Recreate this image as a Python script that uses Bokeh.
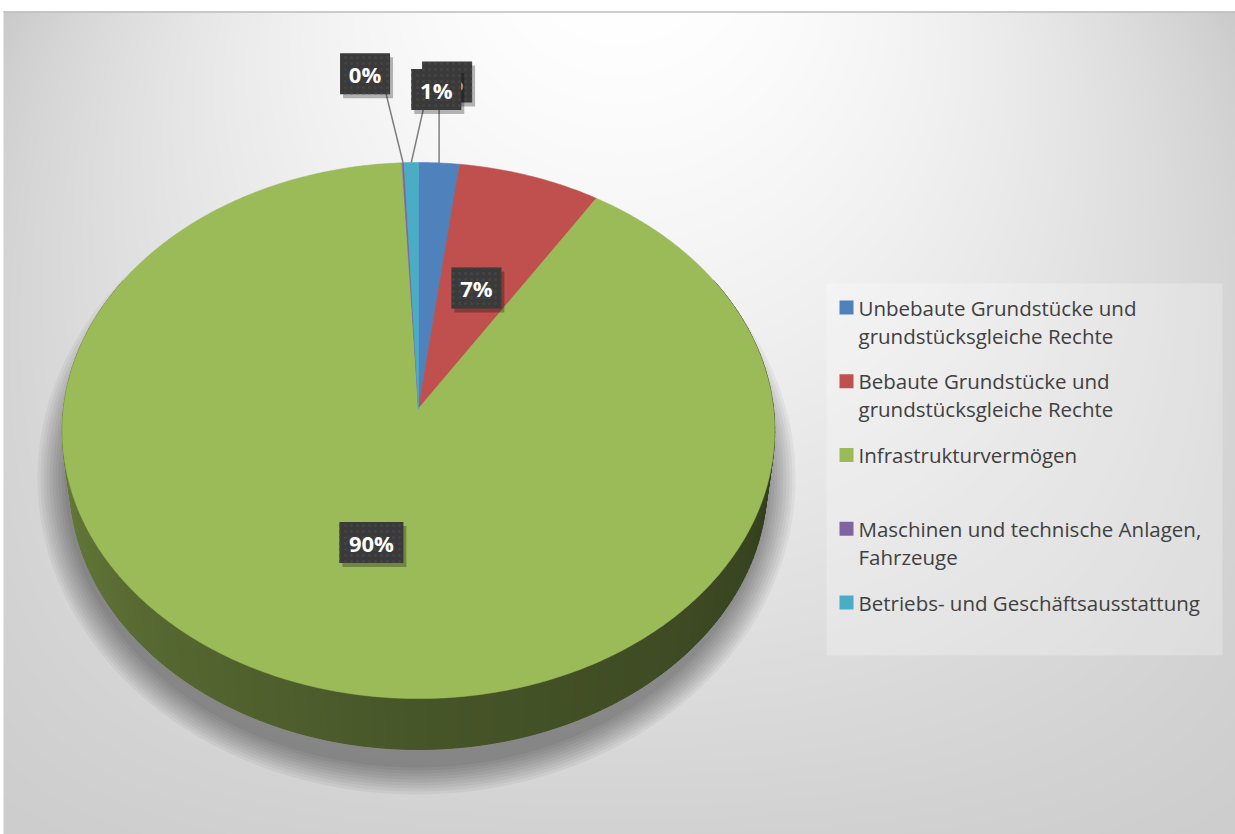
import textwrap
import numpy as np
from bokeh.plotting import figure
from bokeh.models import Range1d
from bokeh.core.properties import value
from bokeh.embed import file_html
from bokeh.resources import INLINE

# ---------------- data ----------------
categories = [
    "Unbebaute Grundstücke und grundstücksgleiche Rechte",
    "Bebaute Grundstücke und grundstücksgleiche Rechte",
    "Infrastrukturvermögen",
    "Maschinen und technische Anlagen, Fahrzeuge",
    "Betriebs- und Geschäftsausstattung",
]
shares = [2.0, 7.0, 90.2, 0.1, 0.7]
colors = ["#4f81bd", "#c0504d", "#9bbb59", "#8064a2", "#4bacc6"]

# ---------------- layout / style ----------------
W, H = 1235, 834
CX, CY, S = 418.0, 408.0, 355.0          # apex of the pie on screen, radius
SE, CE, DIST, DEPTH = 0.75, 0.661, 8.04, 0.23
# outer-label offsets from the rim (px) for the tiny slices, drawn in this order
outer_offsets = {0: (8, -81), 3: (-38, -89), 4: (25, -73)}
outer_order = [0, 3, 4]
LABEL_FONT = value("Open Sans")


def proj(theta_deg, r=1.0, z=0.0):
    t = np.radians(theta_deg)
    X = r * np.sin(t)
    Yv = r * np.cos(t)
    v = Yv * SE + z * CE
    w = Yv * CE - z * SE
    k = DIST / (DIST + w)
    return CX + S * X * k, CY - S * v * k


def Y(sy):
    return -np.asarray(sy)


p = figure(width=W, height=H, x_range=Range1d(0, W), y_range=Range1d(-H, 0),
           output_backend="svg", toolbar_location=None, min_border=0,
           x_axis_type=None, y_axis_type=None)
p.grid.visible = False
p.outline_line_color = None
p.background_fill_color = "white"
p.border_fill_color = "white"

# ---------------- background gradient ----------------
left, top, right, bot = 3.0, 11.0, float(W), float(H)
nx, ny = 616, 412
xs = left + (np.arange(nx) + 0.5) * (right - left) / nx
ys = bot - (np.arange(ny) + 0.5) * (bot - top) / ny
gx, gy = np.meshgrid(xs, ys)
hx = ((gx - 620) / 615.0) ** 2
vy = gy / 834.0
b = 255 - (55 - 50 * vy ** 0.7) * hx - 45 * vy ** 1.3
b = np.clip(b, 0, 255).astype(np.uint8)
img = np.empty((ny, nx), dtype=np.uint32)
view = img.view(dtype=np.uint8).reshape((ny, nx, 4))
view[..., 0] = b
view[..., 1] = b
view[..., 2] = b
view[..., 3] = 255
p.image_rgba(image=[img], x=left, y=-bot, dw=right - left, dh=bot - top)
p.line(x=[left, right], y=[-11.5, -11.5], line_color="#bdbdbd", line_width=1.5)

# ---------------- shadow ----------------
tt = np.linspace(0, 2 * np.pi, 200)
for i in range(1, 11):
    rx, ry = 349 + 3 * i, 286 + 3 * i
    p.patch(x=416 + rx * np.cos(tt), y=Y(478 + ry * np.sin(tt)),
            fill_color="black", fill_alpha=0.042, line_color=None)

# ---------------- pie geometry ----------------
shares_a = np.array(shares, dtype=float)
cum = np.cumsum(shares_a)
starts = 360.0 * (cum - shares_a) / cum[-1]
ends = 360.0 * cum / cum[-1]


def slice_at(theta):
    for i in range(len(shares)):
        if starts[i] <= theta % 360 < ends[i]:
            return i
    return len(shares) - 1


def hex2rgb(h):
    return np.array([int(h[i:i + 2], 16) for i in (1, 3, 5)], dtype=float)


fac_t = [60, 90, 135, 180, 225, 270, 300]
fac_v = [0.30, 0.32, 0.40, 0.46, 0.56, 0.68, 0.70]
side_x, side_y, side_c = [], [], []
for th in np.arange(60, 300, 1.0):
    a, c2 = th, th + 1.0
    x1, y1 = proj(a)
    x2, y2 = proj(c2)
    x3, y3 = proj(c2, z=-DEPTH)
    x4, y4 = proj(a, z=-DEPTH)
    side_x.append([x1, x2, x3, x4])
    side_y.append(list(Y([y1, y2, y3, y4])))
    f = np.interp(th + 0.5, fac_t, fac_v)
    rgb = np.clip(hex2rgb(colors[slice_at(th + 0.5)]) * f, 0, 255).astype(int)
    side_c.append("#%02x%02x%02x" % tuple(rgb))
p.patches(xs=side_x, ys=side_y, fill_color=side_c, line_color=side_c, line_width=1)

# top face
for i in range(len(shares)):
    n = max(3, int((ends[i] - starts[i]) * 2))
    th = np.linspace(starts[i], ends[i], n)
    px, py = proj(th)
    px = np.concatenate([[CX], px, [CX]])
    py = np.concatenate([[CY], py, [CY]])
    p.patch(x=px, y=Y(py), fill_color=colors[i], line_color=colors[i], line_width=0.5)


# ---------------- data labels ----------------
def draw_label(cx, cy, txt):
    w = 22 + 14 * len(txt)
    h = 41
    p.rect(x=cx + 3, y=-(cy + 4), width=w, height=h, fill_color="black",
           fill_alpha=0.28, line_color=None)
    p.rect(x=cx, y=-cy, width=w, height=h, fill_color="#3a3a3a", line_color=None,
           hatch_pattern="dot", hatch_color="#444444", hatch_scale=6, hatch_weight=1)
    p.text(x=[cx], y=[-cy], text=[txt], text_color="white", text_font=LABEL_FONT,
           text_font_style="bold", text_font_size="22px", text_align="center",
           text_baseline="middle")


labels = ["%d%%" % int(np.floor(s + 0.5)) for s in shares]
mids = (starts + ends) / 2.0

# outer labels with leader lines
for i in outer_order:
    rx, ry = proj(mids[i])
    dx, dy = outer_offsets[i]
    lx, ly = rx + dx, ry + dy
    w = 22 + 14 * len(labels[i])
    ex = min(max(rx, lx - w / 2 + 12), lx + w / 2 - 4)
    ey = ly + 20
    p.line(x=[rx, ex], y=Y([ry, ey]), line_color="#7f7f7f", line_width=1.5)
for i in outer_order:
    rx, ry = proj(mids[i])
    dx, dy = outer_offsets[i]
    draw_label(rx + dx, ry + dy, labels[i])

# inner labels
for i in range(len(shares)):
    if i in outer_offsets:
        continue
    lx, ly = proj(mids[i], r=0.5)
    draw_label(lx, ly, labels[i])

# ---------------- legend ----------------
p.rect(x=(826 + 1222) / 2, y=-(283 + 655) / 2, width=1222 - 826, height=655 - 283,
       fill_color="white", fill_alpha=0.25, line_color=None)
slot0, slot = 307.0, 73.75
for i, name in enumerate(categories):
    yc = slot0 + i * slot
    p.rect(x=846, y=-yc, width=14, height=14, fill_color=colors[i], line_color=None)
    for k, line in enumerate(textwrap.wrap(name, 34)):
        p.text(x=[858], y=[-(yc + 28 * k)], text=[line], text_color="#404040",
               text_font=LABEL_FONT, text_font_size="20.5px", text_baseline="middle",
               text_align="left")

open("out.html", "w").write(file_html(p, INLINE))
